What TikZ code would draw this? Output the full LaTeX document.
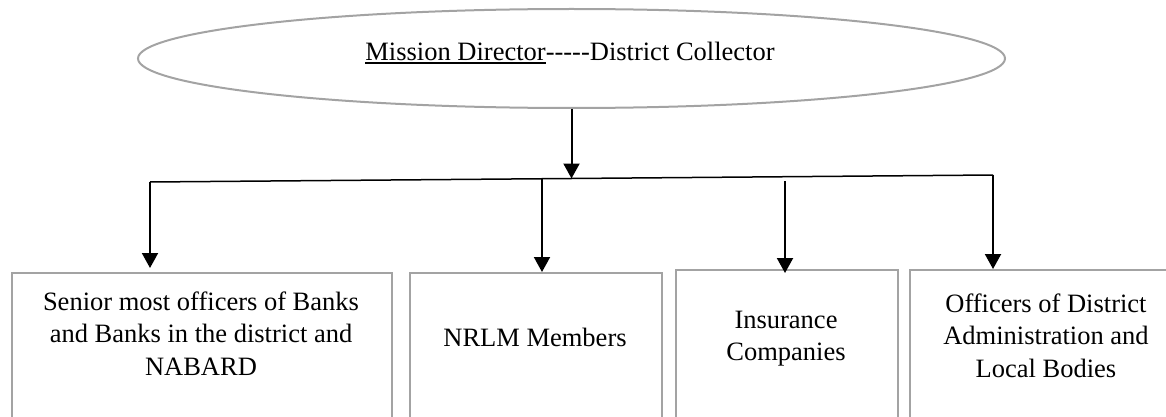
\documentclass[tikz,border=0pt]{standalone}
\usepackage{fontspec}
\setmainfont{Liberation Serif}
\usetikzlibrary{arrows.meta,shapes.geometric,calc}
\definecolor{framegray}{HTML}{A3A3A3}
% underline drawn as a rule beneath the text
\newcommand\mduline[1]{\setbox0\hbox{#1}\rlap{\rule[-3pt]{\wd0}{1.5pt}}\box0}
\begin{document}
\begin{tikzpicture}[x=1pt,y=-1pt,
  every node/.style={font=\fontsize{26.5}{32.5}\selectfont},
  oval/.style={ellipse, draw=framegray, line width=2pt, minimum width=867pt, minimum height=99pt, inner sep=0},
  unitbox/.style={rectangle, draw=framegray, line width=2pt, inner sep=0, anchor=north west, minimum height=200pt},
  caption/.style={align=center, inner sep=0, anchor=north},
  conn/.style={line width=2pt, -{Triangle[width=16pt,length=15pt]}},
  bar/.style={line width=1.5pt}]
\useasboundingbox (0,0) rectangle (1166,417);
\clip (0,0) rectangle (1166,417);

% head of the structure
\node[oval] (top) at (571.5,58.5) {};
\node[anchor=base, inner sep=0] (toptext) at (570,61)
  {\mduline{Mission Director}-\kern0pt-\kern0pt-\kern0pt-\kern0pt-District Collector};

% member boxes (open at the bottom edge)
\node[unitbox, minimum width=380pt] (b1) at (11,272) {};
\node[unitbox, minimum width=252pt] (b2) at (409,272) {};
\node[unitbox, minimum width=222pt] (b3) at (675,269) {};
\node[unitbox, minimum width=274pt] (b4) at (909,269) {};

\node[caption] (t1) at (201,287.25)
  {\strut Senior most officers of Banks\\\strut and Banks in the district and\\\strut NABARD};
\node[caption] (t2) at (535,323.25) {\strut NRLM Members};
\node[caption] (t3) at (786,305.25) {\strut Insurance\\\strut Companies};
\node[caption] (t4) at (1046,289.25)
  {\strut Officers of District\\\strut Administration and\\\strut Local Bodies};

% distribution bar
\coordinate (barL) at (150,182);
\coordinate (barR) at (993,175);
\draw[bar] (barL) -- (barR);
\coordinate (j0) at ($(barL)!0.5!(barR)$);
\coordinate (j2) at ($(barL)!0.465!(barR)$);
\coordinate (j3) at (785,181);

% connectors
\draw[conn] (top.south) -- (j0);
\draw[conn, shorten >=4pt] (barL) -- (barL |- b1.north);
\draw[conn] (j2) -- (j2 |- b2.north);
\draw[conn, shorten >=-4pt] (j3) -- (j3 |- b3.north);
\draw[conn] (barR) -- (barR |- b4.north);
\end{tikzpicture}
\end{document}
